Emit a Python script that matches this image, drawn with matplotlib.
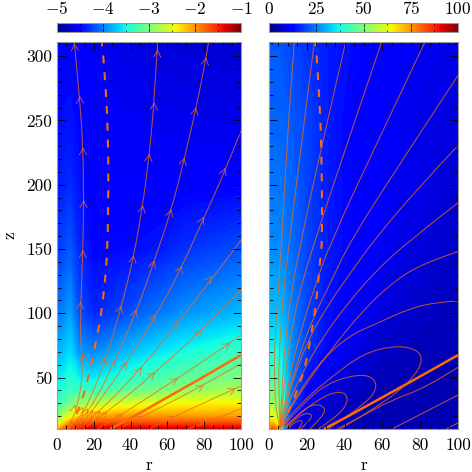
"""
Two panels of r-z maps with flow lines and field lines.
"""
import numpy as np
import matplotlib
matplotlib.use('Agg')
import matplotlib.pyplot as plt
from matplotlib.cm import ScalarMappable
from matplotlib.colors import Normalize
from matplotlib.patches import PathPatch
from matplotlib.path import Path
from matplotlib.ticker import MultipleLocator

plt.rcParams['font.family'] = ['cmr10', 'DejaVu Serif']
plt.rcParams['mathtext.fontset'] = 'cm'
plt.rcParams['axes.unicode_minus'] = False

LINE_COLOUR = '#f06a1c'
BOLD_COLOUR = '#ff6a08'
SPINE_COLOUR = '#9a9a9a'
W = 472

# left map, log10 values
LEFT_R = [0, 3, 7, 12, 20, 35, 50, 70, 100]
LEFT_Z = [10, 15, 20, 30, 40, 50, 70, 100, 150, 200, 250, 310]
LEFT_VALUES = [
    [-2.20, -1.88, -1.48, -1.32, -1.28, -1.28, -1.28, -1.28, -1.28],
    [-2.68, -2.36, -2.04, -1.80, -1.72, -1.72, -1.72, -1.72, -1.72],
    [-3.00, -2.76, -2.52, -2.28, -2.12, -2.04, -2.04, -2.04, -2.04],
    [-3.32, -3.24, -3.08, -2.92, -2.76, -2.60, -2.52, -2.44, -2.40],
    [-3.48, -3.44, -3.32, -3.32, -3.32, -3.16, -3.06, -2.92, -2.80],
    [-3.60, -3.56, -3.44, -3.56, -3.60, -3.44, -3.32, -3.16, -3.00],
    [-3.80, -3.76, -3.64, -3.92, -3.98, -3.80, -3.65, -3.50, -3.35],
    [-4.04, -4.00, -3.88, -4.20, -4.36, -4.24, -4.08, -3.92, -3.78],
    [-4.28, -4.24, -4.16, -4.36, -4.50, -4.48, -4.44, -4.32, -4.20],
    [-4.40, -4.38, -4.34, -4.44, -4.54, -4.56, -4.56, -4.54, -4.52],
    [-4.48, -4.46, -4.44, -4.50, -4.56, -4.58, -4.60, -4.62, -4.64],
    [-4.56, -4.54, -4.52, -4.56, -4.60, -4.64, -4.68, -4.70, -4.72],
]

# right map, values
RIGHT_R = [0, 2, 5, 8, 12, 20, 30, 45, 60, 80, 100]
RIGHT_Z = [10, 15, 20, 30, 50, 75, 100, 150, 200, 250, 310]
RIGHT_VALUES = [
    [78, 82, 75, 22, 8, 6, 5, 5, 4, 4, 4],
    [68, 70, 60, 24, 10, 7, 6, 5, 4, 4, 4],
    [62, 62, 54, 30, 12, 8, 6, 5, 4, 4, 4],
    [54, 54, 50, 38, 20, 10, 7, 5, 4, 4, 4],
    [42, 44, 42, 36, 24, 14, 10, 7, 5, 4, 4],
    [36, 36, 36, 33, 26, 18, 13, 9, 6, 5, 5],
    [31, 31, 31, 29, 25, 19, 14, 11, 8, 6, 5],
    [26, 26, 26, 25, 23, 19, 15, 12, 10, 8, 6],
    [24, 24, 24, 23, 22, 19, 15, 12, 11, 9, 7],
    [22, 22, 22, 22, 21, 19, 15, 12, 11, 9, 8],
    [21, 21, 21, 20, 19, 17, 15, 13, 11, 10, 9],
]

# flow lines on the left, (r, z) from bottom to top
FLOW_A = [(5.4, 10), (9.4, 20), (11.8, 33), (13.6, 48), (13.9, 66), (12.7, 79), (12.9, 108), (14.1, 150),
          (14.5, 188), (14.1, 230), (12.3, 268), (9.4, 311)]
FLOW_B = [(6.3, 10), (11.8, 17), (18.1, 33), (26.6, 65), (34.8, 104), (41.7, 144), (46.7, 185), (50.2, 224),
          (52.9, 266), (54.7, 311)]
FLOW_C = [(8.2, 10), (12.7, 16), (21.7, 34), (31.7, 64), (43.1, 101), (52.9, 141), (62.1, 180), (69.2, 220),
          (75.5, 259), (81, 298), (82.4, 311)]
FLOW_D = [(10, 10), (13.6, 14.5), (19.7, 25), (38, 62), (53.4, 97), (67.9, 136), (79.7, 174), (91.5, 211), (100, 242)]
FLOW_E = [(11.8, 10), (23.6, 24), (46.2, 58), (66, 93), (84.2, 127), (98.7, 154), (100, 157)]
FLOW_F = [(14, 10), (27.4, 23), (53.4, 54), (78.8, 87), (100, 118)]
FLOW_G = [(22, 10), (35.5, 21.5), (65.6, 49.5), (94.2, 77), (100, 83)]
FLOW_H = [(33, 10), (47, 20), (79.7, 44), (100, 61)]
FLOW_I = [(50, 10), (64, 20), (97, 41.5), (100, 43.6)]
FLOW_J = [(71, 10), (86.8, 17.6), (100, 26)]
FLOW_LINES = [FLOW_A, FLOW_B, FLOW_C, FLOW_D, FLOW_E, FLOW_F, FLOW_G, FLOW_H, FLOW_I, FLOW_J]

ARROWS_A = [(10, 29), (13.9, 69), (12.7, 109), (14.1, 149), (14.5, 188), (14.1, 229), (12.3, 269), (9.4, 310)]
ARROWS_B = [(14.3, 27), (26.6, 66), (34.8, 106), (41.7, 145), (46.7, 184), (50.2, 224), (52.9, 264), (54.7, 305)]
ARROWS_C = [(17, 26), (31.7, 64), (43.1, 103), (52.9, 141), (62.1, 181), (69.2, 221), (75.5, 260), (81, 299)]
ARROWS_D = [(19.7, 25), (38, 62), (53.4, 99), (67.9, 137), (79.7, 175), (91.5, 213)]
ARROWS_E = [(23.6, 24), (46.2, 58), (66, 94), (84.2, 129)]
ARROWS_F = [(27.4, 23), (53.4, 54), (78.8, 87)]
ARROWS_G = [(35.5, 21.5), (65.6, 49.5), (94.2, 77)]
ARROWS_H = [(47, 20), (79.7, 44)]
ARROWS_I = [(64, 20), (97, 41.5)]
ARROWS_J = [(86.8, 17.6)]
FLOW_ARROWS = [ARROWS_A, ARROWS_B, ARROWS_C, ARROWS_D, ARROWS_E, ARROWS_F, ARROWS_G, ARROWS_H, ARROWS_I, ARROWS_J]

THICK_LINE = [(29, 10), (47.8, 24), (100, 67.5)]
LEFT_DASHED = [(6.3, 10), (10, 20), (13.2, 30), (17.2, 51), (19.9, 69), (23, 90), (25.7, 118), (27.5, 150),
               (28, 201), (27.7, 240), (26.3, 281), (24.5, 311)]
RIGHT_DASHED = [(5.8, 10.6), (11.1, 25), (15.5, 43), (19, 57), (22.2, 82), (25.2, 110), (27, 141), (28.2, 156),
                (27.9, 213), (27.3, 247), (26.1, 281), (24.7, 311)]

# field lines on the right
FIELD_1 = [(5.8, 10.6), (4, 20), (2.8, 45), (3, 79), (4.5, 110), (6.7, 156), (10.6, 258), (13.4, 311)]
FIELD_2 = [(5.8, 10.6), (4.9, 45.6), (5.8, 79), (7.6, 118), (10.8, 156), (17.3, 234), (24, 311)]
FIELD_3 = [(5.8, 10.6), (7.2, 53), (9.3, 87), (12, 118), (16.9, 156), (28.4, 234), (40.6, 311)]
FIELD_4 = [(5.8, 10.6), (8.5, 53), (12, 87), (16.4, 118), (24.1, 156), (43.2, 240), (59.6, 311)]
FIELD_5 = [(5.8, 10.6), (11.1, 53), (16.4, 84), (23.5, 118), (32.8, 156), (57, 232), (82.5, 311)]
FIELD_6 = [(5.8, 10.6), (10.2, 38), (16.4, 69), (23.5, 97), (32.3, 123), (42.9, 156), (70, 218), (100, 285)]
FIELD_7 = [(5.8, 10.6), (7.6, 22), (12, 45.6), (19.9, 76.7), (30.5, 105), (42.9, 131), (55.6, 157), (78, 196),
           (100, 230.5)]
FIELD_8 = [(5.8, 10.6), (8.5, 23.6), (16.4, 50.8), (28.7, 82), (42.9, 110), (57, 133.7), (74.6, 157), (100, 186)]
FIELD_9 = [(5.8, 10.6), (9.3, 22), (19.9, 45.6), (34, 74), (49.9, 102.6), (65.8, 124.6), (81.7, 139), (100, 148)]
FIELD_10 = [(5.8, 10.6), (8.5, 18.4), (16.4, 40.6), (28.7, 65), (42.9, 83), (57, 92), (74.6, 104), (90.5, 109),
            (100, 109.6)]
LOOP_1 = [(5.8, 10.6), (16.4, 30), (32.3, 49.5), (49.9, 69), (67.5, 75), (78.1, 72), (81.5, 64), (77, 51),
          (67.5, 38), (57, 27.5), (44.6, 16), (37.6, 10)]
LOOP_2 = [(6.7, 10.6), (16.4, 27.5), (30.5, 45.6), (48.1, 53), (56.5, 49), (56.5, 38), (46.4, 25), (35.8, 14.5),
          (31.4, 10)]
LOOP_3 = [(7.6, 10.6), (18.2, 25), (33.2, 39), (41.5, 38), (41, 27.5), (33.2, 17), (26.1, 10)]
LOOP_4 = [(8.5, 10.6), (14.6, 21), (23.5, 30), (30, 27), (28.5, 19.7), (21.7, 10)]
LOOP_5 = [(9.3, 10.6), (16.4, 22), (23.5, 22), (20.5, 14.5), (16.4, 10)]
LOOP_6 = [(10.2, 10.6), (14.6, 17), (18.8, 16), (15.5, 10)]
LOWER_1 = [(36, 10), (48, 19), (64, 32), (83.6, 42.6), (100, 58)]
LOWER_2 = [(65, 10), (100, 36.4)]
LOWER_3 = [(93.7, 10), (100, 14.7)]
FIELD_LINES = [FIELD_1, FIELD_2, FIELD_3, FIELD_4, FIELD_5, FIELD_6, FIELD_7, FIELD_8, FIELD_9, FIELD_10,
               LOOP_1, LOOP_2, LOOP_3, LOOP_4, LOOP_5, LOOP_6, LOWER_1, LOWER_2, LOWER_3]

LEFT_CBAR_TICKS = [-5, -4, -3, -2, -1]
RIGHT_CBAR_TICKS = [0, 25, 50, 75, 100]
R_TICKS = [0, 20, 40, 60, 80, 100]
Z_TICKS = [50, 100, 150, 200, 250, 300]


def px_axes(fig, x0, x1, y0, y1):
    return fig.add_axes([x0 / W, 1 - y1 / W, (x1 - x0) / W, (y1 - y0) / W])


def draw_line(ax, points, **kwargs):
    # quadratic curves through the read points so the lines do not look kinked
    pts = np.array(points, dtype=float)
    if len(pts) < 3:
        verts, codes = pts, [Path.MOVETO, Path.LINETO]
    else:
        mids = (pts[1:-2] + pts[2:-1]) / 2
        verts = [pts[0]]
        codes = [Path.MOVETO]
        for ctrl, end in zip(pts[1:-1], list(mids) + [pts[-1]]):
            verts += [ctrl, end]
            codes += [Path.CURVE3, Path.CURVE3]
    patch = PathPatch(Path(verts, codes), facecolor='none', capstyle='butt', **kwargs)
    ax.add_patch(patch)


def draw_arrow(ax, line, tip):
    pts = np.array(line, dtype=float)
    mids = (pts[:-1] + pts[1:]) / 2
    i = np.argmin(np.hypot(mids[:, 0] - tip[0], (mids[:, 1] - tip[1]) * 0.7))
    step = (pts[i + 1] - pts[i]) / np.hypot(*(pts[i + 1] - pts[i]))
    tail = (tip[0] - step[0], tip[1] - step[1])
    ax.annotate('', xy=tip, xytext=tail, annotation_clip=False,
                arrowprops=dict(arrowstyle='->,head_length=0.46,head_width=0.26', color=LINE_COLOUR,
                                lw=0.7, alpha=0.75, shrinkA=0, shrinkB=0))


def draw_field(ax, rs, zs, values, cmap, vmin, vmax):
    levels = np.linspace(vmin, vmax, 129)
    ax.contourf(rs, zs, values, levels=levels, cmap=cmap, vmin=vmin, vmax=vmax, antialiased=False)


def style_map(ax):
    ax.set_xlim(0, 100)
    ax.set_ylim(10, 311)
    ax.set_xticks(R_TICKS)
    ax.set_yticks(Z_TICKS)
    ax.xaxis.set_minor_locator(MultipleLocator(5))
    ax.yaxis.set_minor_locator(MultipleLocator(10))
    ax.tick_params(which='major', direction='in', top=True, right=True, length=6, width=0.6, color='black',
                   labelsize=12.5)
    ax.tick_params(which='minor', direction='in', top=True, right=True, length=3, width=0.6, color='black')
    ax.tick_params(axis='x', which='major', pad=6)
    for spine in ax.spines.values():
        spine.set_color(SPINE_COLOUR)
        spine.set_linewidth(0.8)
    ax.set_xlabel('r', fontsize=12.5)
    ax.xaxis.set_label_coords(0.5, -0.073)


def draw_colorbar(fig, cax, vmin, vmax, ticks, minor):
    mappable = ScalarMappable(Normalize(vmin, vmax), 'jet')
    cbar = fig.colorbar(mappable, cax=cax, orientation='horizontal')
    cbar.set_ticks(ticks)
    cbar.set_ticklabels([f'${t}$' for t in ticks])
    cax.xaxis.set_ticks_position('top')
    cax.xaxis.set_minor_locator(MultipleLocator(minor))
    cax.tick_params(which='major', direction='in', length=3, width=0.5, labelsize=12.5, pad=4, bottom=True, top=True)
    cax.tick_params(which='minor', direction='in', length=1.5, width=0.5, bottom=True, top=True)
    cbar.outline.set_edgecolor(SPINE_COLOUR)
    cbar.outline.set_linewidth(0.8)


def plot_chart(output_filename):
    fig = plt.figure(figsize=(W / 100, W / 100), dpi=100)

    ax1 = px_axes(fig, 57, 241, 42, 429)
    draw_field(ax1, LEFT_R, LEFT_Z, LEFT_VALUES, 'jet', -5, -1)
    style_map(ax1)
    ax1.set_yticklabels([str(t) for t in Z_TICKS])
    ax1.set_ylabel('z', fontsize=12.5)
    ax1.yaxis.set_label_coords(-0.215, 0.5)
    for line, tips in zip(FLOW_LINES, FLOW_ARROWS):
        draw_line(ax1, line, lw=0.75, edgecolor=LINE_COLOUR, alpha=0.75)
        for tip in tips:
            draw_arrow(ax1, line, tip)
    draw_line(ax1, THICK_LINE, lw=1.8, edgecolor=BOLD_COLOUR)
    draw_line(ax1, LEFT_DASHED, lw=1.5, edgecolor=BOLD_COLOUR, linestyle=(0, (3.8, 4.3)))

    ax2 = px_axes(fig, 269, 458, 42, 429)
    draw_field(ax2, RIGHT_R, RIGHT_Z, RIGHT_VALUES, 'jet', 0, 100)
    style_map(ax2)
    ax2.tick_params(labelleft=False)
    for line in FIELD_LINES:
        draw_line(ax2, line, lw=0.75, edgecolor=LINE_COLOUR, alpha=0.75)
    draw_line(ax2, THICK_LINE, lw=1.8, edgecolor=BOLD_COLOUR)
    draw_line(ax2, RIGHT_DASHED, lw=1.5, edgecolor=BOLD_COLOUR, linestyle=(0, (3.8, 4.3)))

    draw_colorbar(fig, px_axes(fig, 57, 241, 23, 32), -5, -1, LEFT_CBAR_TICKS, 0.5)
    draw_colorbar(fig, px_axes(fig, 269, 458, 23, 32), 0, 100, RIGHT_CBAR_TICKS, 12.5)

    fig.savefig(output_filename, dpi=100)


if __name__ == "__main__":
    plot_chart('out.png')
